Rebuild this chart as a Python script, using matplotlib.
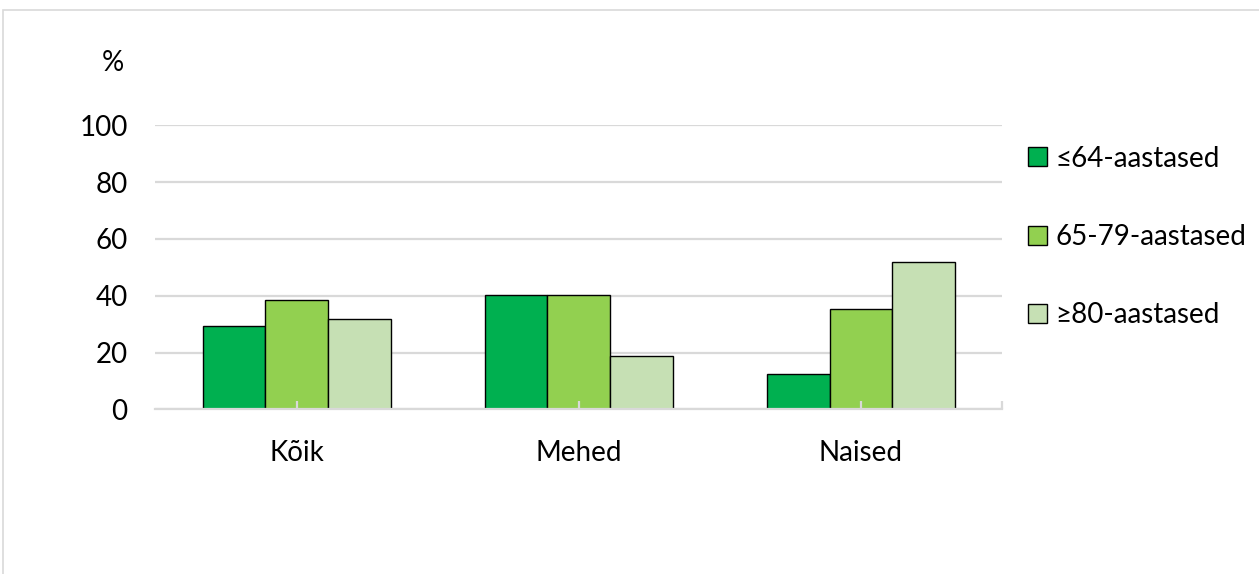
import numpy as np
import matplotlib.pyplot as plt
from matplotlib.patches import Rectangle

# ================================
# DATOS
# ================================
kategooriad = ["Kõik", "Mehed", "Naised"]
vanus_64 = [29.3, 40.2, 12.5]
vanus_65_79 = [38.4, 40.4, 35.2]
vanus_80 = [31.9, 18.9, 52.0]
seeriad = ["≤64-aastased", "65-79-aastased", "≥80-aastased"]
y_ticks = [0, 20, 40, 60, 80, 100]

varvid = ["#00B050", "#92D050", "#C6E0B4"]

plt.rcParams["font.family"] = ["Lato", "DejaVu Sans"]

fig = plt.figure(figsize=(12.59, 5.74), dpi=100)
ax = fig.add_axes([0.1235, 0.2869, 0.6724, 0.4948])

x = np.arange(len(kategooriad))
w = 0.222
for i, (vals, lab) in enumerate(zip([vanus_64, vanus_65_79, vanus_80], seeriad)):
    ax.bar(x + (i - 1) * w, vals, w, color=varvid[i], edgecolor="black",
           linewidth=1.0, label=lab, zorder=2)

ax.set_xlim(-0.5, 2.5)
ax.set_ylim(0, 100)
ax.set_yticks(y_ticks)
ax.yaxis.grid(True, color="#D9D9D9", linewidth=1.6)
ax.set_axisbelow(True)
ax.xaxis.set_zorder(3)

for s in ["top", "right", "left"]:
    ax.spines[s].set_visible(False)
ax.spines["bottom"].set_color("#D9D9D9")
ax.spines["bottom"].set_linewidth(1.6)

ax.set_xticks(list(x) + [2.5])
ax.set_xticklabels(kategooriad + [""])
ax.tick_params(axis="x", direction="in", length=6, width=1.6, color="#D9D9D9",
               labelsize=20, pad=22)
ax.tick_params(axis="y", length=0, labelsize=20, pad=20)

fig.text(0.09, 0.89, "%", fontsize=20, ha="center", va="center")

fig.legend(loc="upper left", bbox_to_anchor=(0.8168, 0.7463), frameon=False,
           fontsize=20, handlelength=0.68, handleheight=0.68, handletextpad=0.3,
           labelspacing=1.88, borderpad=0, borderaxespad=0)

# raam
fig.patches.append(Rectangle((3 / 1259, -0.1), 2, 1.1 - 10 / 574,
                             transform=fig.transFigure, fill=False,
                             edgecolor="#D9D9D9", linewidth=1.2))

fig.savefig("out.png", dpi=100)
